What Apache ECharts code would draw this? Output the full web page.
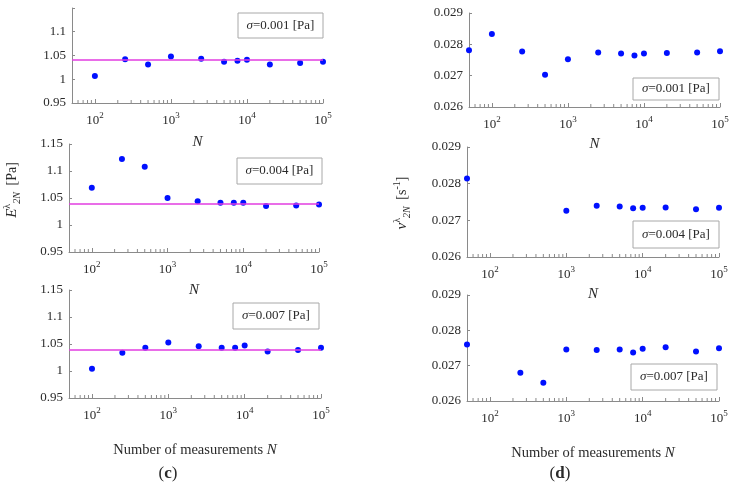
<!DOCTYPE html>
<html><head><meta charset="utf-8">
<script src="https://cdn.jsdelivr.net/npm/echarts@6/dist/echarts.min.js"></script>
<style>html,body{margin:0;padding:0;background:#fff}#c{width:736px;height:487px}</style>
</head><body><div id="c"></div><script>
// ---- data ----
const nLeft = [100, 250, 500, 1000, 2500, 5000, 7500, 10000, 20000, 50000, 100000];
const E_s001 = [1.007, 1.042, 1.031, 1.048, 1.043, 1.037, 1.039, 1.041, 1.031, 1.034, 1.037];
const E_s004 = [1.069, 1.122, 1.108, 1.050, 1.044, 1.041, 1.041, 1.041, 1.035, 1.036, 1.038];
const E_s007 = [1.004, 1.034, 1.043, 1.053, 1.046, 1.043, 1.043, 1.047, 1.036, 1.039, 1.043];
const E_mean = [1.037, 1.038, 1.039];

const nRight1 = [50, 100, 250, 500, 1000, 2500, 5000, 7500, 10000, 20000, 50000, 100000];
const nu_s001 = [0.02781, 0.02833, 0.02777, 0.02703, 0.02752, 0.02774, 0.02771, 0.02764, 0.02771, 0.02772, 0.02774, 0.02778];
const nRight2 = [50, 1000, 2500, 5000, 7500, 10000, 20000, 50000, 100000];
const nu_s004 = [0.02814, 0.02726, 0.02740, 0.02738, 0.02733, 0.02734, 0.02735, 0.02730, 0.02734];
const nRight3 = [50, 250, 500, 1000, 2500, 5000, 7500, 10000, 20000, 50000, 100000];
const nu_s007 = [0.02760, 0.02680, 0.02652, 0.02746, 0.02744, 0.02746, 0.02737, 0.02748, 0.02752, 0.02740, 0.02749];
const nu_mean = [0.02774, 0.02733, 0.02751];

const sigmaLabels = ['0.001', '0.004', '0.007'];
const minorTicks = [60, 70, 80, 90, 200, 300, 400, 500, 600, 700, 800, 900,
  2000, 3000, 4000, 5000, 6000, 7000, 8000, 9000,
  20000, 30000, 40000, 50000, 60000, 70000, 80000, 90000];

// ---- layout ----
const SERIF = "'Liberation Serif', 'DejaVu Serif', serif";
const panels = [
  {grid:{left:72, top:8, width:251, height:95}, y:[0.95, 1.15, 0.05], hideTop:true, x:nLeft, v:E_s001, m:E_mean[0], bottom:false, nameGap:32},
  {grid:{left:69, top:144, width:250, height:108}, y:[0.95, 1.15, 0.05], x:nLeft, v:E_s004, m:E_mean[1], bottom:false, nameGap:31},
  {grid:{left:69, top:290, width:252, height:108}, y:[0.95, 1.15, 0.05], x:nLeft, v:E_s007, m:E_mean[2], bottom:true, nameGap:45},
  {grid:{left:469, top:13, width:251, height:94}, y:[0.026, 0.029, 0.001], x:nRight1, v:nu_s001, m:nu_mean[0], bottom:false, nameGap:30},
  {grid:{left:467, top:147, width:252, height:110}, y:[0.026, 0.029, 0.001], x:nRight2, v:nu_s004, m:nu_mean[1], bottom:false, nameGap:30},
  {grid:{left:467, top:295, width:252, height:106}, y:[0.026, 0.029, 0.001], x:nRight3, v:nu_s007, m:nu_mean[2], bottom:true, nameGap:45}
];
const boxes = [
  {x:238, y:13, w:85, h:25, s:0}, {x:237, y:158, w:85, h:26, s:1}, {x:233, y:303, w:86, h:26, s:2},
  {x:633, y:78, w:86, h:22, s:0}, {x:633, y:221, w:86, h:27, s:1}, {x:631, y:364, w:86, h:26, s:2}
];

const axisColor = '#8a8a8a';
const textColor = '#2a2a2a';
const grids = [], xAxes = [], yAxes = [], series = [];
panels.forEach((p, i) => {
  grids.push(Object.assign({outerBoundsMode:'none', containLabel:false}, p.grid));
  xAxes.push({
    type:'log', logBase:10, min:50, max:100000, gridIndex:i,
    name: p.bottom ? 'Number of measurements {i|N}' : '{i|N}',
    nameLocation:'middle', nameGap:p.nameGap,
    nameTextStyle:{fontFamily:SERIF, fontSize:14.5, color:textColor,
      rich:{i:{fontFamily:SERIF, fontStyle:'italic', fontSize:15, color:textColor}}},
    axisLine:{show:true, lineStyle:{color:axisColor, width:1}},
    axisTick:{show:true, inside:true, length:4, lineStyle:{color:axisColor}},
    splitLine:{show:false},
    axisLabel:{
      margin:8, color:textColor, fontFamily:SERIF, fontSize:13, showMinLabel:false,
      formatter: v => {
        const e = Math.log10(v);
        if (Math.abs(e - Math.round(e)) > 1e-6) return '';
        return '{b|10}{s|' + Math.round(e) + '}';
      },
      rich:{b:{fontFamily:SERIF, fontSize:13, color:textColor, lineHeight:16, verticalAlign:'bottom'},
            s:{fontFamily:SERIF, fontSize:9, color:textColor, verticalAlign:'top', lineHeight:16}}
    }
  });
  yAxes.push({
    type:'value', gridIndex:i, min:p.y[0], max:p.y[1], interval:p.y[2],
    axisLine:{show:true, lineStyle:{color:axisColor, width:1}},
    axisTick:{show:true, inside:true, length:3, lineStyle:{color:axisColor}},
    splitLine:{show:false},
    axisLabel:{
      margin:6, color:textColor, fontFamily:SERIF, fontSize:13,
      formatter: v => {
        if (p.hideTop && Math.abs(v - p.y[1]) < 1e-9) return '';
        return String(+v.toFixed(4));
      }
    }
  });
  series.push({
    type:'scatter', xAxisIndex:i, yAxisIndex:i, symbolSize:6, clip:false,
    itemStyle:{color:'#0010ff', opacity:1},
    data:p.x.map((n, k) => [n, p.v[k]]),
    markLine:{silent:true, symbol:['none','none'], label:{show:false}, animation:false,
      lineStyle:{color:'#e23ce0', width:1.5, type:'solid', opacity:1}, data:[{yAxis:p.m}]},
    z:3
  });
  series.push({
    type:'scatter', xAxisIndex:i, yAxisIndex:i, symbol:'rect', symbolSize:[1, 3], symbolOffset:[0, -1.5],
    clip:false, silent:true, itemStyle:{color:axisColor, opacity:1},
    data:minorTicks.map(t => [t, p.y[0]]), z:2
  });
});

const graphics = [];
boxes.forEach(b => {
  graphics.push({type:'rect', shape:{x:b.x, y:b.y, width:b.w, height:b.h},
    style:{fill:'#fff', stroke:'#a8a8a8', lineWidth:1}, z:10});
  graphics.push({type:'text', x:b.x + b.w/2, y:b.y + b.h/2, z:11,
    style:{text:'{i|σ}=' + sigmaLabels[b.s] + ' [Pa]', align:'center', verticalAlign:'middle',
      font:'13px ' + SERIF, fill:textColor,
      rich:{i:{fontFamily:SERIF, fontStyle:'italic', fontSize:13, fill:textColor, color:textColor}}}});
});
graphics.push({type:'text', x:12, y:190, rotation:Math.PI/2, z:11,
  style:{text:'{m|E}{sup|λ}{sub|2N}  {r|[Pa]}', align:'center', verticalAlign:'middle', fill:textColor,
    rich:{m:{fontFamily:SERIF, fontStyle:'italic', fontSize:15, lineHeight:20, color:textColor, verticalAlign:'middle'},
          sup:{fontFamily:SERIF, fontSize:10, lineHeight:20, color:textColor, verticalAlign:'top'},
          sub:{fontFamily:SERIF, fontStyle:'italic', fontSize:10, lineHeight:20, color:textColor, verticalAlign:'bottom'},
          r:{fontFamily:SERIF, fontSize:14, lineHeight:20, color:textColor, verticalAlign:'middle'}}}});
graphics.push({type:'text', x:402, y:203, rotation:Math.PI/2, z:11,
  style:{text:'{m|ν}{sup|λ}{sub|2N}  {r|[s}{sup|-1}{r|]}', align:'center', verticalAlign:'middle', fill:textColor,
    rich:{m:{fontFamily:SERIF, fontStyle:'italic', fontSize:15, lineHeight:20, color:textColor, verticalAlign:'middle'},
          sup:{fontFamily:SERIF, fontSize:10, lineHeight:20, color:textColor, verticalAlign:'top'},
          sub:{fontFamily:SERIF, fontStyle:'italic', fontSize:10, lineHeight:20, color:textColor, verticalAlign:'bottom'},
          r:{fontFamily:SERIF, fontSize:14, lineHeight:20, color:textColor, verticalAlign:'middle'}}}});
graphics.push({type:'text', x:168, y:474, z:11,
  style:{text:'({b|c})', align:'center', verticalAlign:'middle', font:'17px ' + SERIF, fill:textColor,
    rich:{b:{fontFamily:SERIF, fontWeight:'bold', fontSize:17, color:textColor}}}});
graphics.push({type:'text', x:560, y:474, z:11,
  style:{text:'({b|d})', align:'center', verticalAlign:'middle', font:'17px ' + SERIF, fill:textColor,
    rich:{b:{fontFamily:SERIF, fontWeight:'bold', fontSize:17, color:textColor}}}});

const chart = echarts.init(document.getElementById('c'), null, {renderer:'canvas'});
chart.setOption({
  animation:false, backgroundColor:'#fff',
  grid:grids, xAxis:xAxes, yAxis:yAxes, series:series, graphic:graphics
});
</script></body></html>
